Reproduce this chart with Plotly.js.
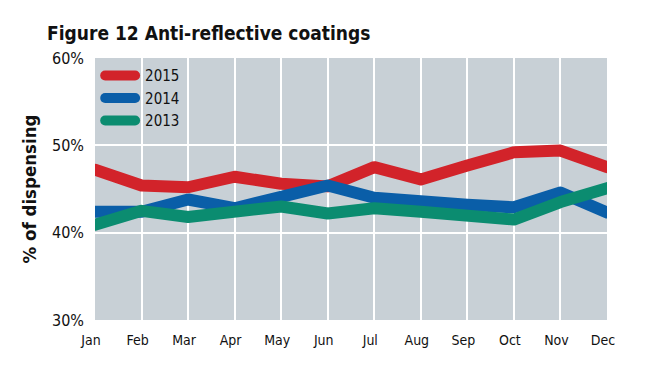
<!DOCTYPE html>
<html>
<head>
<meta charset="utf-8">
<script src="https://cdn.plot.ly/plotly-3.0.1.min.js"></script>
<style>
html,body{margin:0;padding:0;background:#fff;}
#chart{width:650px;height:367px;}
#chart .js-line{stroke-linecap:round;stroke-linejoin:round;}
#chart .legendlines path{stroke-linecap:round;}
#chart .legend .legendtext{transform:translateX(5px);}
</style>
</head>
<body>
<div id="chart"></div>
<script>
const months = ["Jan","Feb","Mar","Apr","May","Jun","Jul","Aug","Sep","Oct","Nov","Dec"];
const s2015 = [47.2, 45.4, 45.2, 46.4, 45.6, 45.3, 47.5, 46.1, 47.7, 49.2, 49.4, 47.5];
const s2014 = [42.4, 42.4, 43.8, 42.8, 44.1, 45.4, 44.0, 43.5, 43.2, 42.9, 44.6, 42.3];
const s2013 = [40.9, 42.5, 41.8, 42.5, 43.0, 42.2, 42.8, 42.4, 42.1, 41.5, 43.5, 45.1];
const seriesNames = ["2015", "2014", "2013"];
const colors = ["#d2232a", "#0a5ea8", "#0b8c70"];
const yTicks = [30, 40, 50, 60];

const font = "'DejaVu Sans Condensed', 'Liberation Sans Narrow', sans-serif";
const data = [s2015, s2014, s2013].map((ys, i) => ({
  type: "scatter", mode: "lines", x: months.map((m, j) => j), y: ys,
  name: seriesNames[i], line: {color: colors[i], width: 12, shape: "linear"},
  hoverinfo: "skip"
}));

const layout = {
  width: 650, height: 367,
  margin: {l: 95, r: 43, t: 58, b: 47, pad: 0},
  paper_bgcolor: "#ffffff", plot_bgcolor: "#c8d0d6",
  title: {text: "<b>Figure 12 Anti-reflective coatings</b>", x: 47/650, xanchor: "left", y: 1 - 33/367, yanchor: "middle",
    font: {family: font, size: 19, color: "#111"}},
  showlegend: true,
  legend: {x: 0.01, y: 0.995, xanchor: "left", yanchor: "top", bgcolor: "rgba(0,0,0,0)",
    font: {family: font, size: 15, color: "#111"},
    tracegroupgap: 0, itemwidth: 30},
  xaxis: {range: [0, 11], tickmode: "array", tickvals: months.map((m, j) => j), ticktext: months,
    showgrid: true, gridcolor: "#ffffff", gridwidth: 2, zeroline: false, showline: false, ticks: "",
    ticklabelstandoff: 10, ticklabelshift: -4,
    tickfont: {family: font, size: 14, color: "#111"}, fixedrange: true},
  yaxis: {range: [30, 60], tickmode: "array", tickvals: yTicks, ticktext: yTicks.map(v => v + "%"),
    showgrid: true, gridcolor: "#ffffff", gridwidth: 2, zeroline: false, showline: false, ticks: "",
    tickfont: {family: font, size: 16, color: "#111"}, ticklabelstandoff: 10,
    title: {text: "<b>% of dispensing</b>", standoff: 10, font: {family: font, size: 18.5, color: "#111"}}, fixedrange: true}
};

Plotly.newPlot("chart", data, layout, {displayModeBar: false, staticPlot: true});
</script>
</body>
</html>
